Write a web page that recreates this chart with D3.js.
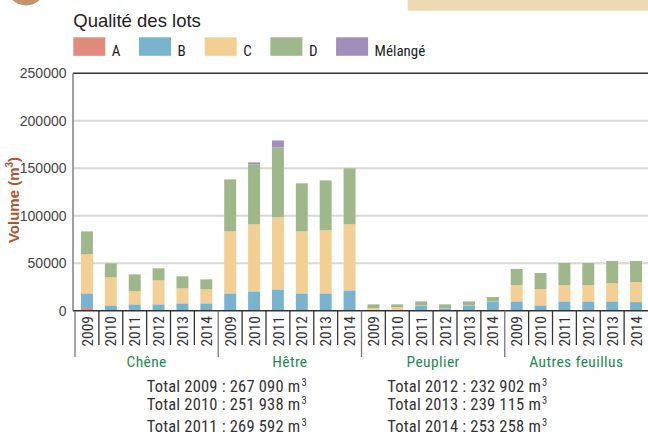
<!DOCTYPE html>
<html lang="fr">
<head>
<meta charset="UTF-8">
<title>Qualité des lots</title>
<script src="https://d3js.org/d3.v7.min.js"></script>
<style>
  body { margin: 0; background: #fff; }
  svg { display: block; }
</style>
</head>
<body>
<div id="chart"></div>
<script>
  // data
  const species = ["Chêne", "Hêtre", "Peuplier", "Autres feuillus"];
  const years = ["2009", "2010", "2011", "2012", "2013", "2014"];
  const qualities = ["A", "B", "C", "D", "Mélangé"];
  const colors = ["#e08b7b", "#7ab3ce", "#f3cf93", "#9fb88b", "#a18fbb"];

  // one value per bar: Chêne 2009..2014, Hêtre, Peuplier, Autres feuillus
  const valA = [2800, 0, 0, 0, 0, 0,  0, 0, 0, 0, 0, 0,  0, 0, 0, 0, 0, 0,  0, 0, 0, 0, 0, 0];
  const valB = [15450, 5600, 6700, 6700, 7700, 7700,  18250, 20350, 22450, 18250, 18250, 21400,
                300, 300, 5600, 2450, 5600, 9800,  9800, 5600, 9800, 9800, 9800, 9100];
  const valC = [41050, 29500, 13650, 25200, 15800, 14750,  65250, 70550, 75850, 65250, 66350, 69500,
                2400, 3300, 300, 200, 200, 200,  17200, 17200, 17200, 17200, 19300, 21100];
  const valD = [24200, 14700, 17900, 12700, 12650, 10550,  54800, 63200, 73700, 50600, 52600, 59000,
                4000, 3100, 3900, 4050, 4000, 4400,  16900, 16900, 23200, 23200, 23200, 22100];
  const valM = [0, 0, 0, 0, 0, 0,  0, 2100, 7300, 0, 0, 0,  0, 0, 0, 0, 0, 0,  0, 0, 0, 0, 0, 0];

  const yTicks = [0, 50000, 100000, 150000, 200000, 250000];
  const totalsLeft = ["Total 2009 : 267 090 m", "Total 2010 : 251 938 m", "Total 2011 : 269 592 m"];
  const totalsRight = ["Total 2012 : 232 902 m", "Total 2013 : 239 115 m", "Total 2014 : 253 258 m"];

  const REG = '"Liberation Sans", Arial, Helvetica';
  const COND = '"Roboto Condensed", "DejaVu Sans Condensed"';

  const width = 648, height = 435;
  const plot = { left: 73, right: 648, top: 73.3, bottom: 310.7 };

  const svg = d3.select("#chart").append("svg")
    .attr("width", width)
    .attr("height", height);

  // decorations at the top
  svg.append("circle").attr("cx", 26).attr("cy", -14).attr("r", 19.5).attr("fill", "#c2966a");
  svg.append("rect").attr("x", 407.7).attr("y", 0).attr("width", 241).attr("height", 10.7).attr("fill", "#efd9b1");

  // bars
  const bars = [];
  species.forEach((s, i) => years.forEach((yr, j) => bars.push({ key: s + "|" + yr, sp: s, yr: yr, idx: i * 6 + j })));

  const x = d3.scaleBand()
    .domain(bars.map(d => d.key))
    .range([75, 648])
    .paddingInner(0.5)
    .paddingOuter(0.25);

  const y = d3.scaleLinear()
    .domain([0, 250000])
    .range([plot.bottom, plot.top]);

  // gridlines
  svg.append("g")
    .selectAll("line")
    .data(yTicks.filter(t => t > 0 && t < 250000))
    .enter().append("line")
    .attr("x1", plot.left).attr("x2", plot.right)
    .attr("y1", d => y(d)).attr("y2", d => y(d))
    .attr("stroke", "#d9d9d9").attr("stroke-width", 2);

  // y tick labels
  svg.append("g")
    .selectAll("text")
    .data(yTicks)
    .enter().append("text")
    .attr("font-family", REG)
    .attr("x", 66.5)
    .attr("y", d => y(d))
    .attr("dy", "0.36em")
    .attr("text-anchor", "end")
    .attr("font-size", 14)
    .attr("fill", "#444")
    .text(d => d);

  // stacked bars
  const series = [valA, valB, valC, valD, valM];
  const stackRows = bars.map(b => {
    const row = { key: b.key };
    qualities.forEach((q, k) => { row[q] = series[k][b.idx]; });
    return row;
  });
  const stacked = d3.stack().keys(qualities)(stackRows);

  svg.append("g")
    .selectAll("g")
    .data(stacked)
    .enter().append("g")
    .attr("fill", (d, i) => colors[i])
    .selectAll("rect")
    .data(d => d)
    .enter().append("rect")
    .attr("x", d => x(d.data.key))
    .attr("width", x.bandwidth())
    .attr("y", d => y(d[1]))
    .attr("height", d => y(d[0]) - y(d[1]));

  // axis lines
  svg.append("line")
    .attr("x1", plot.left).attr("x2", plot.right)
    .attr("y1", plot.top).attr("y2", plot.top)
    .attr("stroke", "#333").attr("stroke-width", 1.5);
  svg.append("line")
    .attr("x1", plot.left).attr("x2", plot.left)
    .attr("y1", plot.top).attr("y2", plot.bottom)
    .attr("stroke", "#808080").attr("stroke-width", 1.5);
  svg.append("line")
    .attr("x1", plot.left).attr("x2", plot.right)
    .attr("y1", plot.bottom).attr("y2", plot.bottom)
    .attr("stroke", "#333").attr("stroke-width", 1.5);

  // separators between bars
  const step = x.step();
  const x0 = x.range()[0];
  svg.append("g")
    .selectAll("line")
    .data(d3.range(bars.length))
    .enter().append("line")
    .attr("x1", i => x0 + i * step).attr("x2", i => x0 + i * step)
    .attr("y1", plot.bottom)
    .attr("y2", i => (i % 6 === 0 ? 357 : 345))
    .attr("stroke", i => (i % 6 === 0 ? "#777" : "#333"))
    .attr("stroke-width", 1.3);

  // year labels
  svg.append("g")
    .selectAll("text")
    .data(bars)
    .enter().append("text")
    .attr("font-family", COND)
    .attr("transform", d => `translate(${x(d.key) + x.bandwidth() / 2},316) rotate(-90)`)
    .attr("dy", "0.36em")
    .attr("text-anchor", "end")
    .attr("font-size", 15.5)
    .attr("fill", "#333")
    .text(d => d.yr);

  // species labels
  svg.append("g")
    .selectAll("text")
    .data(species)
    .enter().append("text")
    .attr("font-family", COND)
    .attr("x", (d, i) => x0 + (i * 6 + 3) * step)
    .attr("y", 366.7)
    .attr("text-anchor", "middle")
    .attr("font-size", 15.5)
    .attr("letter-spacing", 0.4)
    .attr("fill", "#1e8a4f")
    .text(d => d);

  // totals
  function totalsColumn(list, left) {
    svg.append("g")
      .selectAll("text")
      .data(list)
      .enter().append("text")
      .attr("font-family", COND)
      .attr("x", left)
      .attr("y", (d, i) => [391.7, 410.3, 431.7][i])
      .attr("font-size", 16.5)
      .attr("letter-spacing", 0.2)
      .attr("fill", "#333")
      .each(function (d) {
        const t = d3.select(this);
        t.append("tspan").text(d);
        t.append("tspan").attr("dy", -6).attr("dx", 1).attr("font-size", 10.5).text("3");
      });
  }
  totalsColumn(totalsLeft, 146.7);
  totalsColumn(totalsRight, 387.3);

  // y axis title
  const yTitle = svg.append("text")
    .attr("font-family", REG)
    .attr("transform", "translate(19,200) rotate(-90)")
    .attr("text-anchor", "middle")
    .attr("font-size", 15)
    .attr("font-weight", "bold")
    .attr("fill", "#b5532c");
  yTitle.append("tspan").text("Volume (m");
  yTitle.append("tspan").attr("dy", -6).attr("font-size", 10).text("3");
  yTitle.append("tspan").attr("dy", 6).text(")");

  // legend
  svg.append("text")
    .attr("font-family", REG)
    .attr("x", 73.3)
    .attr("y", 26.7)
    .attr("font-size", 18.5)
    .attr("fill", "#222")
    .text("Qualité des lots");

  const legend = svg.append("g")
    .selectAll("g")
    .data(qualities)
    .enter().append("g")
    .attr("transform", (d, i) => `translate(${73.3 + i * 65.7},37.3)`);
  legend.append("rect")
    .attr("width", 32).attr("height", 18.5)
    .attr("fill", (d, i) => colors[i]);
  legend.append("text")
    .attr("font-family", COND)
    .attr("x", 38.5)
    .attr("y", 18.3)
    .attr("font-size", 15)
    .attr("fill", "#222")
    .text(d => d);
</script>
</body>
</html>
